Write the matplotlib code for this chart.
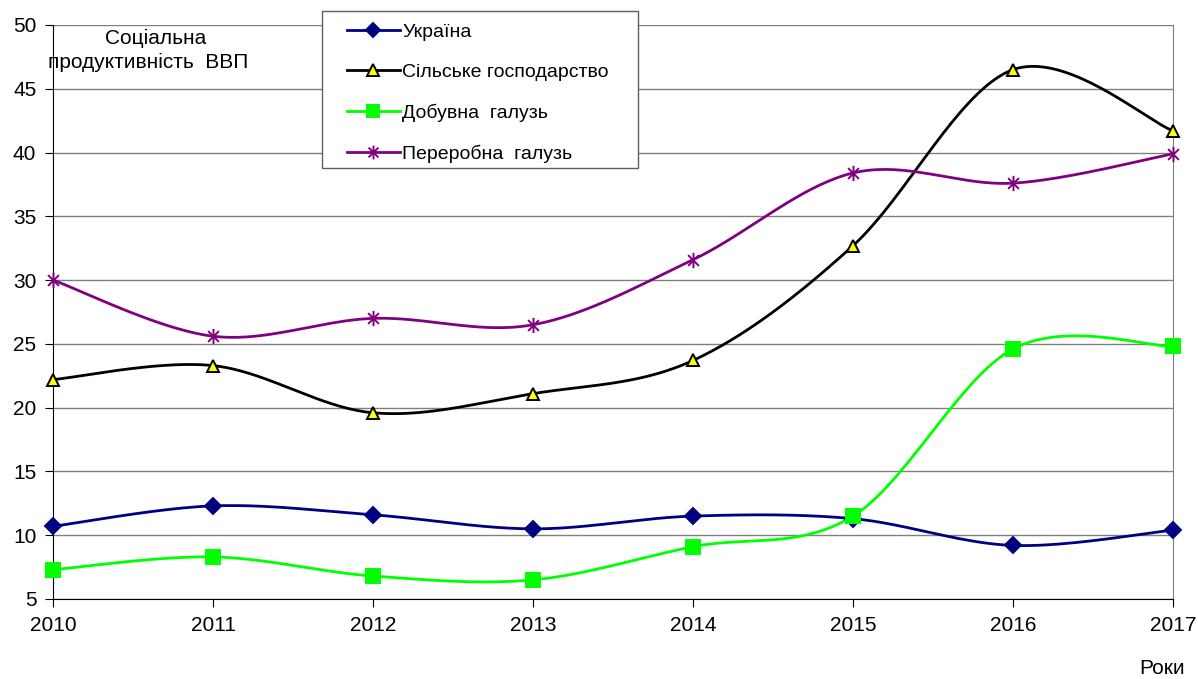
import numpy as np
import matplotlib
matplotlib.use("Agg")
import matplotlib.pyplot as plt
from matplotlib.path import Path
from matplotlib.patches import Rectangle

plt.rcParams['font.family'] = ['Liberation Sans', 'DejaVu Sans']

years = [2010, 2011, 2012, 2013, 2014, 2015, 2016, 2017]
ukraine = [10.7, 12.3, 11.6, 10.5, 11.5, 11.3, 9.2, 10.4]
agro = [22.2, 23.3, 19.6, 21.1, 23.7, 32.7, 46.5, 41.7]
mining = [7.3, 8.3, 6.8, 6.5, 9.1, 11.5, 24.6, 24.8]
manuf = [30.0, 25.6, 27.0, 26.5, 31.6, 38.4, 37.6, 39.9]
names = ['Україна', 'Сільське господарство', 'Добувна  галузь', 'Переробна  галузь']


def smooth(x, y, n=40):
    # excel-like smoothed line: bezier with catmull-rom control points
    x = np.asarray(x, float)
    y = np.asarray(y, float)
    px, py = [], []
    for i in range(len(x) - 1):
        i0 = max(i - 1, 0)
        i3 = min(i + 2, len(x) - 1)
        c1x = x[i] + (x[i + 1] - x[i0]) / 6
        c1y = y[i] + (y[i + 1] - y[i0]) / 6
        c2x = x[i + 1] - (x[i3] - x[i]) / 6
        c2y = y[i + 1] - (y[i3] - y[i]) / 6
        t = np.linspace(0, 1, n)
        a, b, c, d = (1 - t) ** 3, 3 * (1 - t) ** 2 * t, 3 * (1 - t) * t ** 2, t ** 3
        px.extend(a * x[i] + b * c1x + c * c2x + d * x[i + 1])
        py.extend(a * y[i] + b * c1y + c * c2y + d * y[i + 1])
    return px, py


# excel star marker: vertical bar + x
k = 0.7071
star = Path([(0, -1), (0, 1), (-k, -k), (k, k), (-k, k), (k, -k)],
            [Path.MOVETO, Path.LINETO, Path.MOVETO, Path.LINETO, Path.MOVETO, Path.LINETO])

W, H = 1198, 679
fig = plt.figure(figsize=(W / 100, H / 100), dpi=100)
ax = fig.add_axes([53 / W, 80 / H, 1120 / W, 574 / H])

styles = [
    dict(color='#000080', marker='D', mfc='#000080', mec='#000080', ms=8),
    dict(color='black', marker='^', mfc='#ffff00', mec='black', ms=9),
    dict(color='#00ff00', marker='s', mfc='#00ff00', mec='#00ff00', ms=10),
    dict(color='#800080', marker=star, mfc='none', mec='#800080', ms=11),
]
handles = []
for vals, st, nm in zip([ukraine, agro, mining, manuf], styles, names):
    sx, sy = smooth(years, vals)
    ax.plot(sx, sy, color=st['color'], lw=2, zorder=2)
    ax.plot(years, vals, ls='none', marker=st['marker'], mfc=st['mfc'],
            mec=st['mec'], ms=st['ms'], mew=1.4, zorder=3, clip_on=False)
    h, = ax.plot([], [], color=st['color'], lw=2, marker=st['marker'],
                 mfc=st['mfc'], mec=st['mec'], ms=st['ms'] - 1, mew=1.4)
    handles.append(h)

ax.set_xlim(2010, 2017)
ax.set_ylim(5, 50)
ax.set_yticks(range(5, 51, 5))
ax.set_xticks(years)
ax.yaxis.grid(True, color='#808080', lw=1)
ax.set_axisbelow(True)
ax.spines['top'].set_visible(False)
ax.spines['right'].set_color('#808080')
ax.spines['left'].set_color('black')
ax.spines['bottom'].set_color('black')
ax.tick_params(direction='out', length=6, labelsize=15, pad=6)

fig.text(156 / W, 1 - 38 / H, 'Соціальна', ha='center', va='center', fontsize=15)
fig.text(148 / W, 1 - 62 / H, 'продуктивність  ВВП', ha='center', va='center', fontsize=15)
fig.text(1162 / W, 1 - 668 / H, 'Роки', ha='center', va='center', fontsize=15)

# legend box drawn separately (excel frame has wide side padding)
ax.add_patch(Rectangle((322 / W, 1 - 168 / H), 316 / W, 157 / H,
                       transform=fig.transFigure, facecolor='white',
                       edgecolor='#606060', lw=1, zorder=4, clip_on=False))
leg = ax.legend(handles, names, loc='upper left',
                bbox_to_anchor=(347 / W, 1 - 23 / H), bbox_transform=fig.transFigure,
                frameon=False, fontsize=14, handlelength=2.7, labelspacing=1.16,
                borderpad=0, handletextpad=0.15, borderaxespad=0)
leg.set_zorder(5)

fig.savefig('out.png', dpi=100)
